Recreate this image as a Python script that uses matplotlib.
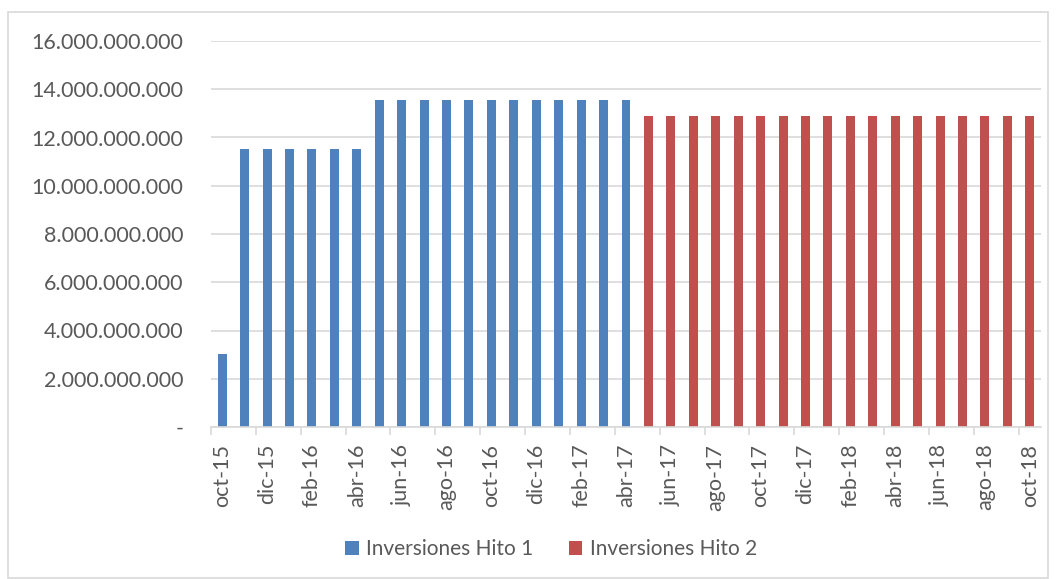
#!/usr/bin/env python3
"""Inversiones Hito 1 / Hito 2 por mes (oct-15 a oct-18)."""

import matplotlib
matplotlib.use("Agg")
import matplotlib.pyplot as plt
import numpy as np
from matplotlib.patches import Rectangle
from matplotlib.ticker import FuncFormatter

MESES = ["ene", "feb", "mar", "abr", "may", "jun",
         "jul", "ago", "sep", "oct", "nov", "dic"]

# oct-15 .. oct-18, 37 meses
categories = [f"{MESES[(9 + i) % 12]}-{15 + (9 + i) // 12}" for i in range(37)]

hito1 = ([3.03e9] + [11.53e9] * 6 + [13.55e9] * 12 + [np.nan] * 18)
hito2 = ([np.nan] * 19 + [12.9e9] * 18)

series_names = ["Inversiones Hito 1", "Inversiones Hito 2"]
colors = ["#4f81bd", "#c0504d"]

TEXT = "#595959"
GRID = "#d9d9d9"

plt.rcParams["font.family"] = ["Lato", "DejaVu Sans"]

fig = plt.figure(figsize=(10.58, 5.79), dpi=100)
ax = fig.add_axes([211 / 1058, 1 - 427 / 579, (1041 - 211) / 1058, (427 - 41) / 579])

x = np.arange(len(categories))
ax.bar(x, hito1, width=0.4, color=colors[0], label=series_names[0])
ax.bar(x, hito2, width=0.4, color=colors[1], label=series_names[1])

ax.set_xlim(-0.5, len(categories) - 0.5)
ax.set_ylim(0, 16e9)
ax.set_yticks(np.arange(0, 16.1e9, 2e9))
ax.yaxis.set_major_formatter(FuncFormatter(
    lambda v, _: "-" if v == 0 else f"{int(v):,}".replace(",", ".")))
ax.tick_params(axis="y", length=0, pad=20, labelsize=15.5, labelcolor=TEXT)
for lbl in ax.get_yticklabels():
    lbl.set_horizontalalignment("right")

ax.set_xticks(x[::2])
ax.set_xticklabels(categories[::2], rotation=90, fontsize=15.5, color=TEXT)
ax.tick_params(axis="x", length=0, pad=12)
# marcas en los bordes de categoría, cada dos
ax.set_xticks(np.arange(-0.5, len(categories), 2), minor=True)
ax.tick_params(axis="x", which="minor", length=6, color=GRID, width=1.2, direction="out")

ax.grid(True, axis="y", color=GRID, linewidth=1.2)
ax.set_axisbelow(True)
for side in ("top", "right", "left"):
    ax.spines[side].set_visible(False)
ax.spines["bottom"].set_color(GRID)
ax.spines["bottom"].set_linewidth(1.2)

fig.legend(loc="center", bbox_to_anchor=(551 / 1058, 1 - 549 / 579), ncol=2,
           frameon=False, fontsize=15, labelcolor=TEXT,
           handlelength=0.65, handleheight=0.65, handletextpad=0.35, columnspacing=1.7)

fig.add_artist(Rectangle((8 / 1058, 1 / 579), 1040 / 1058, 566 / 579,
                         transform=fig.transFigure, fill=False,
                         edgecolor=GRID, linewidth=1.2))

fig.savefig("out.png", dpi=100)
